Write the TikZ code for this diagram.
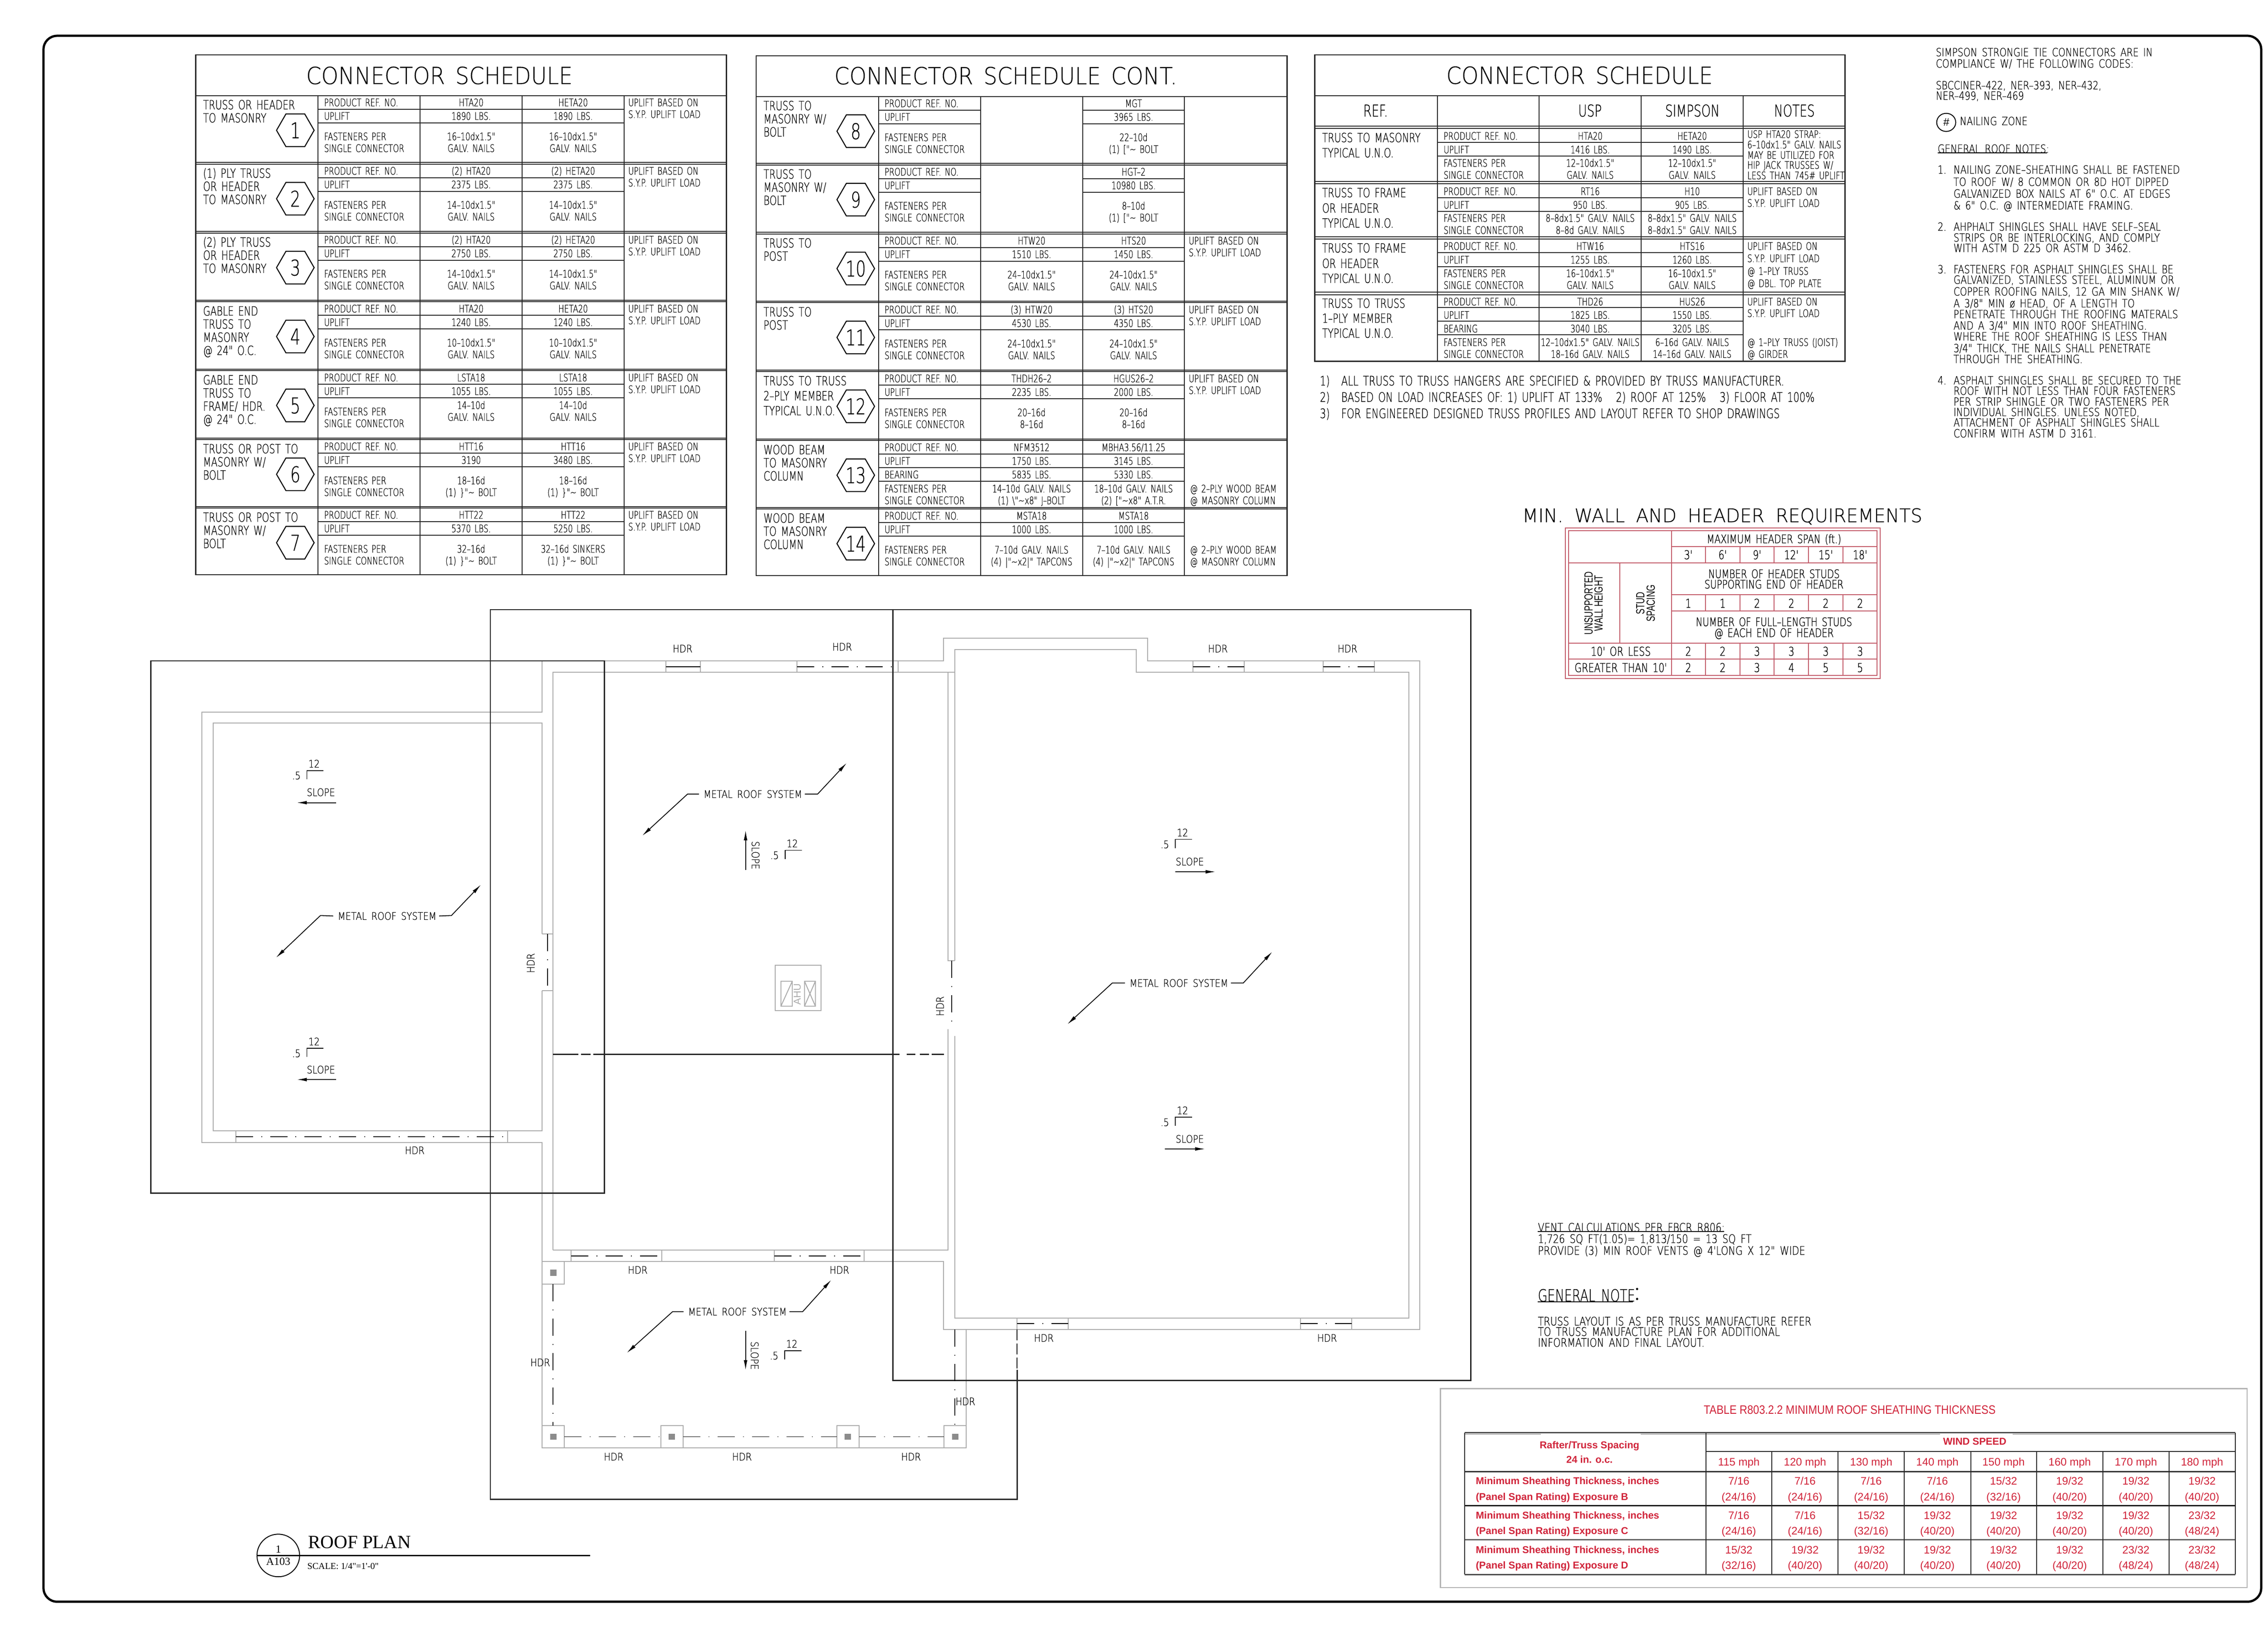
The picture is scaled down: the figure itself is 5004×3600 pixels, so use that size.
\documentclass[tikz,border=0pt]{standalone}
\usepackage{fontspec}
\usetikzlibrary{arrows.meta}
\setmainfont{Liberation Sans}
\newfontfamily\cadn[FakeStretch=.73,WordSpace=1.5,FakeBold=.5]{DejaVu Sans ExtraLight}
\newfontfamily\cadb[FakeStretch=.76,WordSpace=1.5,FakeBold=1]{DejaVu Sans ExtraLight}
\newfontfamily\cadm[FakeStretch=.85,WordSpace=1.6,FakeBold=.5]{DejaVu Sans ExtraLight}
\newfontfamily\cadt[FakeStretch=.92,WordSpace=1.5,FakeBold=.2]{DejaVu Sans ExtraLight}
\newfontfamily\cadx[FakeStretch=.98,WordSpace=1.9,FakeBold=.5]{DejaVu Sans ExtraLight}
\newfontfamily\cadw[FakeStretch=.80,WordSpace=1.6,FakeBold=.5]{DejaVu Sans ExtraLight}
\newfontfamily\redt[FakeStretch=.87]{Liberation Sans}
\newfontfamily\rotf[FakeStretch=.70]{Liberation Sans}
\newfontfamily\rom{Liberation Serif}
\definecolor{wallc}{HTML}{ABABAB}
\definecolor{redline}{HTML}{C25A68}
\definecolor{redtxt}{HTML}{D0243A}
\tikzset{
 txt/.style 2 args={font=#1\fontsize{#2}{#2}\selectfont,inner sep=0pt,yshift={-.365*#2*1pt},text=black},
 tl/.style={line width=2pt,black!85},
 tk/.style={line width=2.6pt,black!85},
 wl/.style={line width=2pt,wallc},
 hd/.style={line width=1.9pt,black,dash pattern=on 38pt off 18pt on 2pt off 18pt},
 rl/.style={line width=2.2pt,redline},
 ar/.style={line width=1.8pt,black,-{Latex[length=22pt,width=8pt]}},
 ang/.style={line width=1.8pt,black},
}
% table texts
\newcommand\mL[3]{\node[txt={\cadn}{23},anchor=base west] at (#1,#2) {#3};}
\newcommand\mC[3]{\node[txt={\cadn}{23},anchor=base] at (#1,#2) {#3};}
% schedule frame
\newcommand\mFrame{%
 \draw[tk] (432,121) rectangle (1603,1268);
 \draw[tl] (432,211) -- (1603,211);
 \foreach \cx in {702,927,1152,1377}{\draw[tl] (\cx,211) -- (\cx,1268);}
 \foreach \ry in {362,514,666,818,970,1121}{\draw[tl] (432,\ry-3.5) -- (1603,\ry-3.5); \draw[tl] (432,\ry) -- (1603,\ry);}
}
\newcommand\mRL[1]{\draw[tl] (702,#1+30) -- (1377,#1+30); \draw[tl] (702,#1+60) -- (1377,#1+60);}
\newcommand\mRG[1]{\foreach \ya in {30,60}{\draw[tl] (702,#1+\ya) -- (927,#1+\ya); \draw[tl] (1152,#1+\ya) -- (1377,#1+\ya);}}
\newcommand\mRowL[3][29]{\foreach \tt [count=\ii] in {#3}{\node[txt={\cadn}{28},anchor=base west] at (448,{#2+20+(\ii-1)*#1}) {\tt};}}
\newcommand\mHex[2]{%
 \draw[line width=2.2pt,black] (651.6-41.5,#1+76.5) -- (651.6-20.75,#1+76.5-36) -- (651.6+20.75,#1+76.5-36) -- (651.6+41.5,#1+76.5) -- (651.6+20.75,#1+76.5+36) -- (651.6-20.75,#1+76.5+36) -- cycle;
 \node[txt={\cadn}{48},anchor=base] at (651.6,#1+76.5) {#2};}
\newcommand\mFast[1]{\mL{715}{#1+15}{PRODUCT REF. NO.}\mL{715}{#1+45}{UPLIFT}\mL{715}{#1+90}{FASTENERS PER}\mL{715}{#1+116}{SINGLE CONNECTOR}}
\newcommand\mCol[7][90]{\mC{#2}{#3+15}{#4}\mC{#2}{#3+45}{#5}\mC{#2}{#3+#1}{#6}\mC{#2}{#3+#1+26}{#7}}
\newcommand\mNote[1]{\mL{1386}{#1+15}{UPLIFT BASED ON}\mL{1386}{#1+41}{S.Y.P. UPLIFT LOAD}}
\newcommand\mWV[2]{\foreach \tt [count=\ii] in {#2}{\node[txt={\cadb}{27},anchor=base] at ({3725+(\ii-1)*75.8},#1) {\tt};}}
\newcommand\mSh[2]{\foreach \tt [count=\ii] in {#2}{\node[txt={\rmfamily}{24},text=redtxt,anchor=base] at ({3836.5+(\ii-1)*146},#1) {\tt};}}
\newcommand\mSlope[3]{% corner x, corner y, 
 \draw[ang] (#1+37,#2) -- (#1,#2) -- (#1,#2+19);
 \node[txt={\cadm}{23},anchor=base] at (#1+16,#2-15) {12};
 \node[txt={\cadm}{23},anchor=base] at (#1-23,#2+11) {.5};}
\newcommand\mN[3]{\node[txt={\cadm}{23},anchor=base] at (#1,#2) {#3};}
\newcommand\mR[3]{\node[font=\cadm\fontsize{23}{23}\selectfont,inner sep=0pt,rotate=#3] at (#1,#2) {HDR};}
\newcommand\mW[3]{\node[txt={\cadw}{25},anchor=base west] at (#1,#2) {#3};}
\newcommand\mV[3]{\node[txt={\cadw}{26},anchor=base west] at (#1,#2) {#3};}
\begin{document}
\begin{tikzpicture}[x=1pt,y=-1pt]
\useasboundingbox (0,0) rectangle (5004,3600);
\fill[white] (0,0) rectangle (5004,3600);
\draw[line width=5pt,black,rounded corners=30pt] (96,79) rectangle (4989,3534);
%---------------- table 1
\mFrame
\node[txt={\cadt}{52},anchor=base] (t1) at (969.5,166.5) {CONNECTOR SCHEDULE};
\foreach \ry in {211,362,514,666,818,970,1121}{\mRL{\ry}\mFast{\ry}\mNote{\ry}}
\mRowL{211}{{TRUSS OR HEADER},{TO MASONRY}}\mHex{211}{1}
\mCol{1039.5}{211}{HTA20}{1890 LBS.}{16–10dx1.5"}{GALV. NAILS}
\mCol{1264.5}{211}{HETA20}{1890 LBS.}{16–10dx1.5"}{GALV. NAILS}
\mRowL{362}{{(1) PLY TRUSS},{OR HEADER},{TO MASONRY}}\mHex{362}{2}
\mCol{1039.5}{362}{(2) HTA20}{2375 LBS.}{14–10dx1.5"}{GALV. NAILS}
\mCol{1264.5}{362}{(2) HETA20}{2375 LBS.}{14–10dx1.5"}{GALV. NAILS}
\mRowL{514}{{(2) PLY TRUSS},{OR HEADER},{TO MASONRY}}\mHex{514}{3}
\mCol{1039.5}{514}{(2) HTA20}{2750 LBS.}{14–10dx1.5"}{GALV. NAILS}
\mCol{1264.5}{514}{(2) HETA20}{2750 LBS.}{14–10dx1.5"}{GALV. NAILS}
\mRowL{666}{{GABLE END},{TRUSS TO},{MASONRY},{@ 24" O.C.}}\mHex{666}{4}
\mCol{1039.5}{666}{HTA20}{1240 LBS.}{10–10dx1.5"}{GALV. NAILS}
\mCol{1264.5}{666}{HETA20}{1240 LBS.}{10–10dx1.5"}{GALV. NAILS}
\mRowL{818}{{GABLE END},{TRUSS TO},{FRAME/ HDR.},{@ 24" O.C.}}\mHex{818}{5}
\mCol[76]{1039.5}{818}{LSTA18}{1055 LBS.}{14–10d}{GALV. NAILS}
\mCol[76]{1264.5}{818}{LSTA18}{1055 LBS.}{14–10d}{GALV. NAILS}
\mRowL{970}{{TRUSS OR POST TO},{MASONRY W/},{BOLT}}\mHex{970}{6}
\mCol{1039.5}{970}{HTT16}{3190}{18–16d}{(1) \}"\textasciitilde{} BOLT}
\mCol{1264.5}{970}{HTT16}{3480 LBS.}{18–16d}{(1) \}"\textasciitilde{} BOLT}
\mRowL{1121}{{TRUSS OR POST TO},{MASONRY W/},{BOLT}}\mHex{1121}{7}
\mCol{1039.5}{1121}{HTT22}{5370 LBS.}{32–16d}{(1) \}"\textasciitilde{} BOLT}
\mCol{1264.5}{1121}{HTT22}{5250 LBS.}{32–16d SINKERS}{(1) \}"\textasciitilde{} BOLT}
%---------------- table 2
\begin{scope}[shift={(1236.5,2)}]
\mFrame
\node[txt={\cadt}{52},anchor=base] (t2) at (982.5,165) {CONNECTOR SCHEDULE CONT.};
\mRG{211}\mRG{362}
\foreach \ry in {514,666,818,970,1121}{\mRL{\ry}}
\draw[tl] (702,1060) -- (1377,1060);
\foreach \ry in {211,362,514,666,818,1121}{\mFast{\ry}}
\mL{715}{985}{PRODUCT REF. NO.}\mL{715}{1015}{UPLIFT}\mL{715}{1045}{BEARING}\mL{715}{1076}{FASTENERS PER}\mL{715}{1102}{SINGLE CONNECTOR}
\foreach \ry in {514,666,818}{\mNote{\ry}}
\mRowL{211}{{TRUSS TO},{MASONRY W/},{BOLT}}\mHex{211}{8}
\mCol{1264.5}{211}{MGT}{3965 LBS.}{22–10d}{(1) ["\textasciitilde{} BOLT}
\mRowL{362}{{TRUSS TO},{MASONRY W/},{BOLT}}\mHex{362}{9}
\mCol{1264.5}{362}{HGT–2}{10980 LBS.}{8–10d}{(1) ["\textasciitilde{} BOLT}
\mRowL{514}{{TRUSS TO},{POST}}\mHex{514}{10}
\mCol{1039.5}{514}{HTW20}{1510 LBS.}{24–10dx1.5"}{GALV. NAILS}
\mCol{1264.5}{514}{HTS20}{1450 LBS.}{24–10dx1.5"}{GALV. NAILS}
\mRowL{666}{{TRUSS TO},{POST}}\mHex{666}{11}
\mCol{1039.5}{666}{(3) HTW20}{4530 LBS.}{24–10dx1.5"}{GALV. NAILS}
\mCol{1264.5}{666}{(3) HTS20}{4350 LBS.}{24–10dx1.5"}{GALV. NAILS}
\mRowL[33]{818}{{TRUSS TO TRUSS},{2–PLY MEMBER},{TYPICAL U.N.O.}}\mHex{818}{12}
\mCol{1039.5}{818}{THDH26–2}{2235 LBS.}{20–16d}{8–16d}
\mCol{1264.5}{818}{HGUS26–2}{2000 LBS.}{20–16d}{8–16d}
\mRowL{970}{{WOOD BEAM},{TO MASONRY},{COLUMN}}\mHex{970}{13}
\mC{1039.5}{985}{NFM3512}\mC{1039.5}{1015}{1750 LBS.}\mC{1039.5}{1045}{5835 LBS.}\mC{1039.5}{1076}{14–10d GALV. NAILS}\mC{1039.5}{1102}{(1) \textbackslash"\textasciitilde x8" J–BOLT}
\mC{1264.5}{985}{MBHA3.56/11.25}\mC{1264.5}{1015}{3145 LBS.}\mC{1264.5}{1045}{5330 LBS.}\mC{1264.5}{1076}{18–10d GALV. NAILS}\mC{1264.5}{1102}{(2) ["\textasciitilde x8" A.T.R.}
\mL{1389}{1076}{@ 2–PLY WOOD BEAM}\mL{1389}{1102}{@ MASONRY COLUMN}
\mRowL{1121}{{WOOD BEAM},{TO MASONRY},{COLUMN}}\mHex{1121}{14}
\mCol{1039.5}{1121}{MSTA18}{1000 LBS.}{7–10d GALV. NAILS}{(4) |"\textasciitilde x2|" TAPCONS}
\mCol{1264.5}{1121}{MSTA18}{1000 LBS.}{7–10d GALV. NAILS}{(4) |"\textasciitilde x2|" TAPCONS}
\mL{1389}{1211}{@ 2–PLY WOOD BEAM}\mL{1389}{1237}{@ MASONRY COLUMN}
\end{scope}
%---------------- table 3
\draw[tk] (2901,121) rectangle (4071,797);
\draw[tl] (2901,211) -- (4071,211);
\foreach \ry in {278,400,522,645}{\draw[tl] (2901,\ry) -- (4071,\ry); \draw[tl] (2901,\ry+5.5) -- (4071,\ry+5.5);}
\foreach \cx in {3171,3396,3621,3846}{\draw[tl] (\cx,211) -- (\cx,797);}
\foreach \ry in {314,344,436,466,557.5,588,679,709,739}{\draw[tl] (3171,\ry) -- (3846,\ry);}
\node[txt={\cadt}{52},anchor=base] (t3) at (3485,166) {CONNECTOR SCHEDULE};
\node[txt={\cadn}{36},anchor=base] at (3035,244) {REF.};
\node[txt={\cadn}{36},anchor=base] at (3508,244) {USP};
\node[txt={\cadn}{36},anchor=base] at (3734,244) {SIMPSON};
\node[txt={\cadn}{36},anchor=base] at (3959,244) {NOTES};
\foreach \ty/\tt in {303.5/TRUSS TO MASONRY,337/TYPICAL U.N.O.,425/TRUSS TO FRAME,459/OR HEADER,492/TYPICAL U.N.O.,547/TRUSS TO FRAME,581/OR HEADER,614/TYPICAL U.N.O.,669/TRUSS TO TRUSS,702/1–PLY MEMBER,735/TYPICAL U.N.O.}{\node[txt={\cadn}{28},anchor=base west] at (2917,\ty) {\tt};}
\foreach \ty/\tt in {300/PRODUCT REF. NO.,330/UPLIFT,359.5/FASTENERS PER,386/SINGLE CONNECTOR,422/PRODUCT REF. NO.,452/UPLIFT,481/FASTENERS PER,507.6/SINGLE CONNECTOR,543/PRODUCT REF. NO.,573/UPLIFT,603/FASTENERS PER,629/SINGLE CONNECTOR,665.5/PRODUCT REF. NO.,695/UPLIFT,725/BEARING,755/FASTENERS PER,781/SINGLE CONNECTOR}{\mL{3185}{\ty}{\tt}}
\foreach \ty/\ta/\tb in {300/HTA20/HETA20,330/1416 LBS./1490 LBS.,359.5/12–10dx1.5"/12–10dx1.5",386/GALV. NAILS/GALV. NAILS,422/RT16/H10,452/950 LBS./905 LBS.,481/8–8dx1.5" GALV. NAILS/8–8dx1.5" GALV. NAILS,507.6/8–8d GALV. NAILS/8–8dx1.5" GALV. NAILS,543/HTW16/HTS16,573/1255 LBS./1260 LBS.,603/16–10dx1.5"/16–10dx1.5",629/GALV. NAILS/GALV. NAILS,665.5/THD26/HUS26,695/1825 LBS./1550 LBS.,725/3040 LBS./3205 LBS.,755/12–10dx1.5" GALV. NAILS/6–16d GALV. NAILS,781/18–16d GALV. NAILS/14–16d GALV. NAILS}{\mC{3508.5}{\ty}{\ta}\mC{3733.5}{\ty}{\tb}}
\foreach \ty/\tt in {296/USP HTA20 STRAP:,319/6–10dx1.5" GALV. NAILS,342/MAY BE UTILIZED FOR,387/LESS THAN 745\# UPLIFT,422/UPLIFT BASED ON,448/S.Y.P. UPLIFT LOAD,543/UPLIFT BASED ON,570/S.Y.P. UPLIFT LOAD,598/@ 1–PLY TRUSS,625/@ DBL. TOP PLATE,665.5/UPLIFT BASED ON,691/S.Y.P. UPLIFT LOAD,755/@ 1–PLY TRUSS (JOIST),781/@ GIRDER}{\mL{3855}{\ty}{\tt}}
\mL{3855}{364}{HIP JACK TRUSSES W/}
\node[txt={\cadn}{29},anchor=base west] at (2912,840) {1)};
\node[txt={\cadn}{29},anchor=base west] at (2912,876) {2)};
\node[txt={\cadn}{29},anchor=base west] at (2912,912) {3)};
\node[txt={\cadn}{29},anchor=base west] at (2959,840) {ALL TRUSS TO TRUSS HANGERS ARE SPECIFIED \& PROVIDED BY TRUSS MANUFACTURER.};
\node[txt={\cadn}{29},anchor=base west] at (2959,876) {BASED ON LOAD INCREASES OF: 1) UPLIFT AT 133\%\ \ \ 2) ROOF AT 125\%\ \ \ 3) FLOOR AT 100\%};
\node[txt={\cadn}{29},anchor=base west] at (2959,912) {FOR ENGINEERED DESIGNED TRUSS PROFILES AND LAYOUT REFER TO SHOP DRAWINGS};
%---------------- right notes
\mW{4271}{115}{SIMPSON STRONGIE TIE CONNECTORS ARE IN}
\mW{4271}{140}{COMPLIANCE W/ THE FOLLOWING CODES:}
\mW{4271}{188}{SBCCINER–422, NER–393, NER–432,}
\mW{4271}{211}{NER–499, NER–469}
\draw[line width=2pt,black] (4294,270) ellipse [x radius=21,y radius=20];
\node[font=\itshape\fontsize{24}{24}\selectfont,inner sep=0pt] (nz) at (4294,270) {\#};
\mW{4324}{267}{NAILING ZONE}
\mW{4275}{328}{GENERAL ROOF NOTES:}
\draw[line width=1.8pt,black] (4275,337) -- (4517,337);
\mW{4275}{374}{1.}\mW{4310}{374}{NAILING ZONE–SHEATHING SHALL BE FASTENED}
\mW{4310}{401}{TO ROOF W/ 8 COMMON OR 8D HOT DIPPED}
\mW{4310}{427}{GALVANIZED BOX NAILS AT 6" O.C. AT EDGES}
\mW{4310}{453}{\& 6" O.C. @ INTERMEDIATE FRAMING.}
\mW{4275}{500}{2.}\mW{4310}{500}{AHPHALT SHINGLES SHALL HAVE SELF–SEAL}
\mW{4310}{524}{STRIPS OR BE INTERLOCKING, AND COMPLY}
\mW{4310}{547}{WITH ASTM D 225 OR ASTM D 3462.}
\mW{4275}{594}{3.}\mW{4310}{594}{FASTENERS FOR ASPHALT SHINGLES SHALL BE}
\mW{4310}{617}{GALVANIZED, STAINLESS STEEL, ALUMINUM OR}
\mW{4310}{643}{COPPER ROOFING NAILS, 12 GA MIN SHANK W/}
\mW{4310}{669}{A 3/8" MIN ø HEAD, OF A LENGTH TO}
\mW{4310}{693}{PENETRATE THROUGH THE ROOFING MATERALS}
\mW{4310}{718}{AND A 3/4" MIN INTO ROOF SHEATHING.}
\mW{4310}{742}{WHERE THE ROOF SHEATHING IS LESS THAN}
\mW{4310}{768}{3/4" THICK, THE NAILS SHALL PENETRATE}
\mW{4310}{792}{THROUGH THE SHEATHING.}
\mW{4275}{839}{4.}\mW{4310}{839}{ASPHALT SHINGLES SHALL BE SECURED TO THE}
\mW{4310}{862}{ROOF WITH NOT LESS THAN FOUR FASTENERS}
\mW{4310}{886}{PER STRIP SHINGLE OR TWO FASTENERS PER}
\mW{4310}{909}{INDIVIDUAL SHINGLES. UNLESS NOTED,}
\mW{4310}{932}{ATTACHMENT OF ASPHALT SHINGLES SHALL}
\mW{4310}{956}{CONFIRM WITH ASTM D 3161.}
%---------------- min wall table
\node[txt={\cadx}{41.5},anchor=base] (mw) at (3800,1137) {MIN. WALL AND HEADER REQUIREMENTS};
\draw[rl] (3454,1165) rectangle (4148,1497);
\draw[rl] (3461,1171) rectangle (4141.5,1490);
\foreach \ry in {1206,1312,1348}{\draw[rl] (3688,\ry) -- (4141.5,\ry);}
\foreach \ry in {1242,1419,1454}{\draw[rl] (3461,\ry) -- (4141.5,\ry);}
\draw[rl] (3688,1171) -- (3688,1490);
\draw[rl] (3574,1242) -- (3574,1419);
\foreach \cx in {3763,3839,3914,3990,4066}{\draw[rl] (\cx,1206) -- (\cx,1242); \draw[rl] (\cx,1312) -- (\cx,1348); \draw[rl] (\cx,1419) -- (\cx,1490);}
\node[txt={\cadb}{26},anchor=base] at (3914,1189) {MAXIMUM HEADER SPAN (ft.)};
\mWV{1224}{3',6',9',12',15',18'}
\node[txt={\cadb}{26},anchor=base] at (3914,1266) {NUMBER OF HEADER STUDS};
\node[txt={\cadb}{26},anchor=base] at (3914,1289) {SUPPORTING END OF HEADER};
\mWV{1331}{1,1,2,2,2,2}
\node[txt={\cadb}{26},anchor=base] at (3914,1372) {NUMBER OF FULL–LENGTH STUDS};
\node[txt={\cadb}{26},anchor=base] at (3914,1396) {@ EACH END OF HEADER};
\node[txt={\cadb}{27},anchor=base] at (3576,1437) {10' OR LESS};
\mWV{1437}{2,2,3,3,3,3}
\node[txt={\cadb}{27},anchor=base] at (3576,1473) {GREATER THAN 10'};
\mWV{1473}{2,2,3,4,5,5}
\foreach \xx/\tt in {3505/UNSUPPORTED,3527/WALL HEIGHT,3619/STUD,3642/SPACING}{\node[font=\rotf\fontsize{26}{26}\selectfont,inner sep=0pt,rotate=90] at (\xx,1331) {\tt};}
%---------------- roof plan walls
\draw[wl] (1196,3195) -- (1196,2521) -- (445,2521) -- (445,1571) -- (1196,1571) -- (1196,1458) -- (2082,1458) -- (2082,1408) -- (2532,1408) -- (2532,1458) -- (3132,1458) -- (3132,2933) -- (2082,2933) -- (2082,2783) -- (1196,2783);
\draw[wl] (1196,2186) -- (1196,2495) -- (470,2495) -- (470,1595) -- (1196,1595) -- (1196,2061);
\draw[wl] (1196,2061) -- (1220,2061) (1196,2186) -- (1220,2186);
\draw[wl] (1220,2758) -- (1220,1483) -- (2107,1483);
\draw[wl] (2107,2120) -- (2107,1433) -- (2507,1433) -- (2507,1483) -- (3108,1483) -- (3108,2908) -- (2107,2908) -- (2107,2286);
\draw[wl] (2092,1483) -- (2092,2120) -- (2107,2120);
\draw[wl] (2092,2271) -- (2092,2758) -- (1220,2758);
\draw[wl] (2132,2933) -- (2132,3195) -- (1196,3195);
% header jambs
\foreach \xa/\xb in {1469/1545,1758/1982,2632/2745,2919/3032}{\draw[wl] (\xa,1458) -- (\xa,1483) (\xb,1458) -- (\xb,1483);}
\foreach \xa/\xb in {520/1120}{\draw[wl] (\xa,2495) -- (\xa,2521) (\xb,2495) -- (\xb,2521);}
\foreach \xa/\xb in {1260/1460,1708/1907}{\draw[wl] (\xa,2758) -- (\xa,2783) (\xb,2758) -- (\xb,2783);}
\foreach \xa/\xb in {2244/2357,2869.5/2982}{\draw[wl] (\xa,2908) -- (\xa,2933) (\xb,2908) -- (\xb,2933);}
% columns
\foreach \xa/\ya in {1196/2783,1196/3145,1458/3145,1846/3145,2083/3145}{
 \draw[wl] (\xa,\ya) rectangle (\xa+49,\ya+50);
 \fill[black!45] (\xa+17.5,\ya+18) rectangle (\xa+31.5,\ya+32);}
% AHU
\draw[wl] (1710,2130) rectangle (1811,2230);
\draw[wl] (1723,2165) rectangle (1748,2220) (1723,2220) -- (1748,2165);
\draw[wl] (1775,2165) rectangle (1799,2220) (1775,2165) -- (1799,2220) (1775,2220) -- (1799,2165);
\node[font=\rmfamily\fontsize{22}{22}\selectfont,inner sep=0pt,rotate=90,text=wallc] (ahu) at (1759,2194) {AHU};
% outlines
\draw[tk] (1970,1345) -- (3245,1345) -- (3245,3046) -- (1970,3046) -- cycle;
\draw[tk] (1970,1345) -- (1082,1345) -- (1082,3308) -- (2244,3308) -- (2244,3022);
\draw[tk] (1196,1458) -- (332.5,1458) -- (332.5,2632.5) -- (1333.5,2632.5) -- (1333.5,1458) -- (1196,1458);
% header dash lines
\draw[line width=1.9pt,black] (1469,1471) -- (1545,1471);
\draw[hd] (1758,1471) -- (1982,1471);
\draw[hd] (2632,1471) -- (2745,1471);
\draw[hd] (2919,1471) -- (3032,1471);
\draw[hd] (520,2508) -- (1120,2508);
\draw[hd] (1208,2061) -- (1208,2186);
\draw[hd] (2099.5,2120) -- (2099.5,2271);
\draw[hd] (1260,2771) -- (1460,2771);
\draw[hd] (1708,2771) -- (1907,2771);
\draw[hd] (2244,2920) -- (2357,2920);
\draw[hd] (2869.5,2920) -- (2982,2920);
\draw[hd] (1245,3170) -- (1458,3170);
\draw[hd] (1507,3170) -- (1846,3170);
\draw[hd] (1895,3170) -- (2083,3170);
\draw[hd] (1220,2833) -- (1220,3145);
\draw[hd] (2107,2933) -- (2107,3145);
\draw[line width=1.9pt,black,dash pattern=on 24pt off 7pt] (2244,2933) -- (2244,3022);
% section line
\draw[line width=3pt,black!85] (1309,2326) -- (1985,2326);
\draw[line width=3pt,black!85] (1220,2326) -- (1276,2326) (1282,2326) -- (1303,2326) (2001,2326) -- (2020,2326) (2030,2326) -- (2050,2326) (2056,2326) -- (2083,2326);
% HDR labels
\mN{1506}{1431}{HDR}\mN{1858}{1427}{HDR}\mN{2687}{1431}{HDR}\mN{2973}{1431}{HDR}
\mN{915}{2538}{HDR}\mN{1407}{2802}{HDR}\mN{1852}{2802}{HDR}
\mN{1354}{3214}{HDR}\mN{1637}{3214}{HDR}\mN{2010}{3214}{HDR}
\mN{1192}{3006}{HDR}\mN{2130}{3092}{HDR}\mN{2303}{2952}{HDR}\mN{2928}{2952}{HDR}
\mR{1171}{2125}{90}\mR{2074}{2220}{90}
% slope symbols
\mSlope{677}{1700}{}\mN{708}{1748}{SLOPE}
\coordinate (a1s) at (742,1771);\coordinate (a1e) at (655,1771);\draw[ar] (a1s) -- (a1e);
\mSlope{677}{2313}{}\mN{708}{2360}{SLOPE}
\coordinate (a2s) at (742,2382);\coordinate (a2e) at (655,2382);\draw[ar] (a2s) -- (a2e);
\mSlope{1732}{1876}{}
\node[font=\cadm\fontsize{23}{23}\selectfont,inner sep=0pt,rotate=-90] (s3) at (1667,1887) {SLOPE};
\coordinate (a3s) at (1645,1920);\coordinate (a3e) at (1645,1832);\draw[ar] (a3s) -- (a3e);
\mSlope{2593}{1852}{}\mN{2625}{1901}{SLOPE}
\coordinate (a4s) at (2593,1923.5);\coordinate (a4e) at (2682,1923.5);\draw[ar] (a4s) -- (a4e);
\mSlope{2593}{2465}{}\mN{2625}{2513}{SLOPE}
\coordinate (a5s) at (2570,2535);\coordinate (a5e) at (2659,2535);\draw[ar] (a5s) -- (a5e);
\mSlope{1731}{2980}{}
\node[font=\cadm\fontsize{23}{23}\selectfont,inner sep=0pt,rotate=-90] (s6) at (1665,2991) {SLOPE};
\coordinate (a6s) at (1645,2936);\coordinate (a6e) at (1645,3023);\draw[ar] (a6s) -- (a6e);
% metal roof leaders
\node[txt={\cadm}{23},anchor=base] (m1) at (854,2021) {METAL ROOF SYSTEM};
\coordinate (m1a) at (609,2113);\coordinate (m1b) at (1061,1952);
\draw[ar] ([xshift=-10pt]m1.west) -- (707,2020) -- (m1a);
\draw[ar] ([xshift=6pt]m1.east) -- (996,2020) -- (m1b);
\node[txt={\cadm}{23},anchor=base] (m2) at (1661,1752) {METAL ROOF SYSTEM};
\coordinate (m2a) at (1417,1844);\coordinate (m2b) at (1868,1683.5);
\draw[ar] ([xshift=-10pt]m2.west) -- (1517,1752) -- (m2a);
\draw[ar] ([xshift=6pt]m2.east) -- (1804,1752) -- (m2b);
\node[txt={\cadm}{23},anchor=base] (m3) at (2601,2169) {METAL ROOF SYSTEM};
\coordinate (m3a) at (2355,2260);\coordinate (m3b) at (2807,2100);
\draw[ar] ([xshift=-10pt]m3.west) -- (2454,2169) -- (m3a);
\draw[ar] ([xshift=6pt]m3.east) -- (2743,2169) -- (m3b);
\node[txt={\cadm}{23},anchor=base] (m4) at (1627,2894) {METAL ROOF SYSTEM};
\coordinate (m4a) at (1383,2985);\coordinate (m4b) at (1834,2824);
\draw[ar] ([xshift=-10pt]m4.west) -- (1484,2894) -- (m4a);
\draw[ar] ([xshift=6pt]m4.east) -- (1771,2894) -- (m4b);
%---------------- vent notes
\mV{3393}{2708}{VENT CALCULATIONS PER FBCR R806:}
\draw[line width=1.8pt,black] (3393,2717) -- (3804,2717);
\mV{3393}{2733}{1,726 SQ FT(1.05)= 1,813/150 = 13 SQ FT}
\mV{3393}{2759}{PROVIDE (3) MIN ROOF VENTS @ 4'LONG X 12" WIDE}
\node[txt={\cadn}{37},anchor=base west] at (3393,2858) {GENERAL NOTE};
\draw[line width=1.8pt,black] (3393,2872) -- (3603,2872);
\fill[black] (3612,2844) circle (2.5) (3612,2866) circle (2.5);
\mV{3393}{2915}{TRUSS LAYOUT IS AS PER TRUSS MANUFACTURE REFER}
\mV{3393}{2938}{TO TRUSS MANUFACTURE PLAN FOR ADDITIONAL}
\mV{3393}{2962}{INFORMATION AND FINAL LAYOUT.}
%---------------- sheathing
\draw[line width=2.5pt,black!30] (3178,3064) rectangle (4958,3503);
\node[txt={\redt}{27},text=redtxt,anchor=base] (st) at (4081,3110) {TABLE R803.2.2 MINIMUM ROOF SHEATHING THICKNESS};
\draw[line width=2.5pt,black!70] (3232,3161) -- (4932,3161);
\draw[line width=2pt,black!30] (3232,3164) -- (3400,3164) (3620,3164) -- (4280,3164) (4440,3164) -- (4932,3164);
\draw[tl] (3764,3203) -- (4932,3203);
\draw[line width=2.5pt,black!80] (3232,3247) -- (4932,3247);
\draw[line width=3pt,black!90] (3232,3322) -- (4932,3322);
\draw[line width=3pt,black!60] (3232,3397) -- (4932,3397);
\draw[line width=3pt,black!70] (3232,3474) -- (4932,3474);
\draw[tl] (3232,3161) -- (3232,3474) (3764,3161) -- (3764,3474) (4932,3161) -- (4932,3474);
\foreach \cx in {3909,4055.5,4201,4348,4494,4640,4786}{\draw[tl] (\cx,3203) -- (\cx,3474);}
\node[txt={\bfseries}{22},text=redtxt,anchor=base] at (3507,3188) {Rafter/Truss Spacing};
\node[txt={\bfseries}{22},text=redtxt,anchor=base] at (3507,3220) {24 in. o.c.};
\node[txt={\bfseries}{22},text=redtxt,anchor=base] at (4357,3180) {WIND SPEED};
\mSh{3225}{115 mph,120 mph,130 mph,140 mph,150 mph,160 mph,170 mph,180 mph}
\foreach \ty in {3267,3343,3419}{\node[txt={\bfseries}{22},text=redtxt,anchor=base west] at (3256,\ty) {Minimum Sheathing Thickness, inches};}
\node[txt={\bfseries}{22},text=redtxt,anchor=base west] at (3256,3302) {(Panel Span Rating) Exposure B};
\node[txt={\bfseries}{22},text=redtxt,anchor=base west] at (3256,3377) {(Panel Span Rating) Exposure C};
\node[txt={\bfseries}{22},text=redtxt,anchor=base west] at (3256,3453) {(Panel Span Rating) Exposure D};
\mSh{3267}{7/16,7/16,7/16,7/16,15/32,19/32,19/32,19/32}
\mSh{3302}{{(24/16)},{(24/16)},{(24/16)},{(24/16)},{(32/16)},{(40/20)},{(40/20)},{(40/20)}}
\mSh{3343}{7/16,7/16,15/32,19/32,19/32,19/32,19/32,23/32}
\mSh{3377}{{(24/16)},{(24/16)},{(32/16)},{(40/20)},{(40/20)},{(40/20)},{(40/20)},{(48/24)}}
\mSh{3419}{15/32,19/32,19/32,19/32,19/32,19/32,23/32,23/32}
\mSh{3453}{{(32/16)},{(40/20)},{(40/20)},{(40/20)},{(40/20)},{(40/20)},{(48/24)},{(48/24)}}
%---------------- title block
\draw[line width=2pt,black] (614,3432) circle (47);
\draw[line width=2.5pt,black] (567,3432) -- (1302.5,3432);
\node[txt={\rom}{24},anchor=base] (n1) at (614,3417) {1};
\node[txt={\rom}{24},anchor=base] (n2) at (614,3444) {A103};
\node[txt={\rom}{41},anchor=base west] (rp) at (680,3401.5) {ROOF PLAN};
\node[txt={\rom}{20},anchor=base west] (sc) at (678,3455) {SCALE: 1/4"=1'-0"};
\end{tikzpicture}
\end{document}
